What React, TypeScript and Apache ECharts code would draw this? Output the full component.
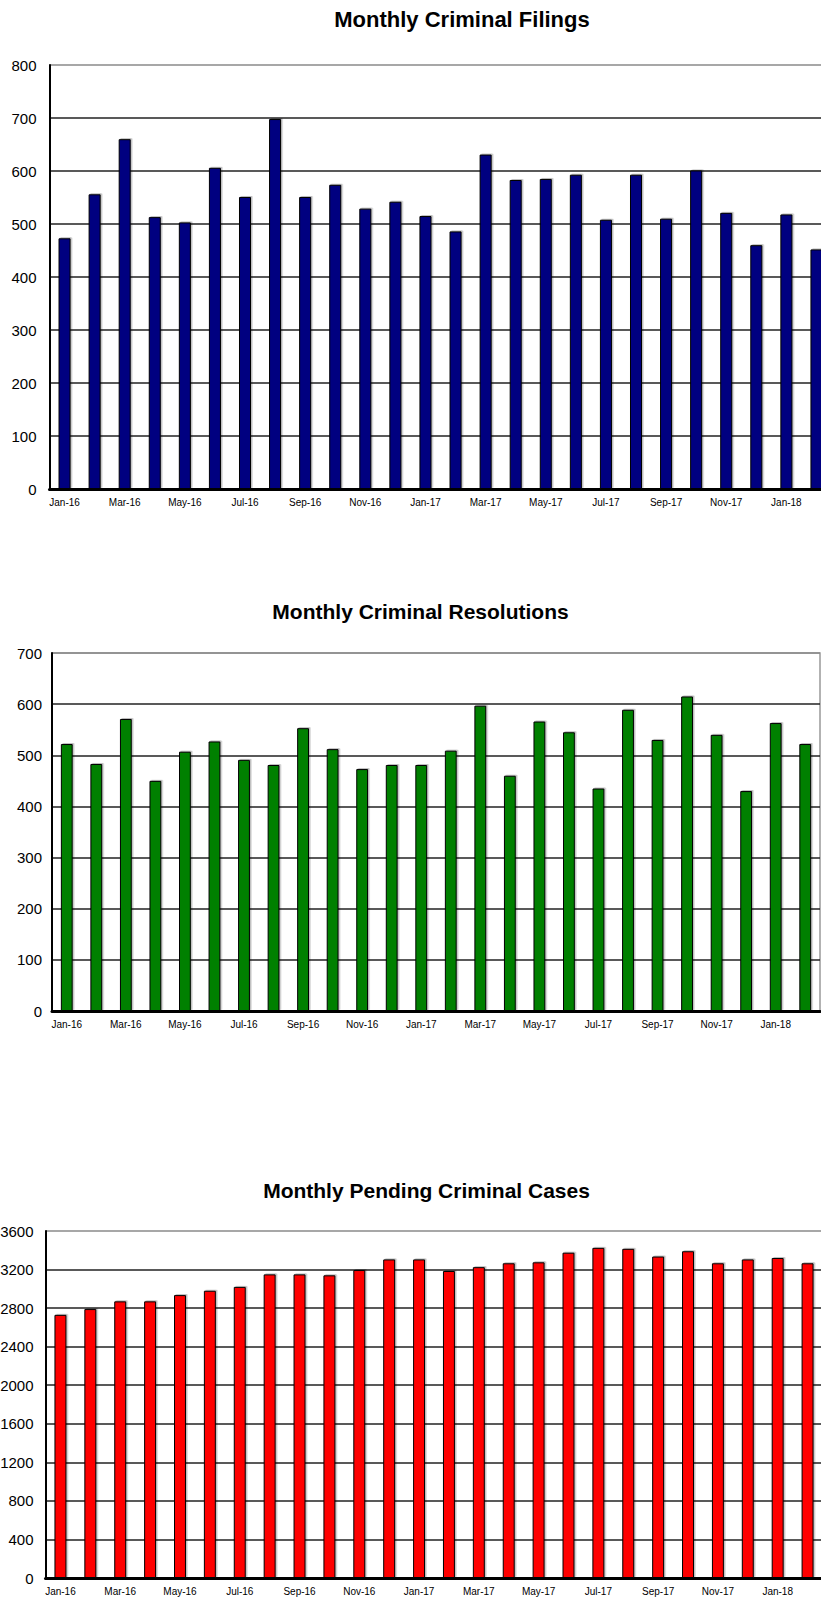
import React, { useEffect, useRef } from "react";
import * as echarts from "echarts";

const months = [
  "Jan-16", "Feb-16", "Mar-16", "Apr-16", "May-16", "Jun-16", "Jul-16", "Aug-16",
  "Sep-16", "Oct-16", "Nov-16", "Dec-16", "Jan-17", "Feb-17", "Mar-17", "Apr-17",
  "May-17", "Jun-17", "Jul-17", "Aug-17", "Sep-17", "Oct-17", "Nov-17", "Dec-17",
  "Jan-18", "Feb-18",
];

const filings = [473, 556, 660, 513, 503, 606, 551, 698, 551, 574, 529, 542, 515, 486, 631, 583, 585, 593, 508, 593, 510, 601, 521, 460, 518, 452];
const resolutions = [522, 483, 571, 450, 507, 527, 491, 481, 553, 512, 473, 481, 481, 509, 597, 460, 566, 545, 435, 589, 530, 615, 540, 430, 563, 522];
const pending = [2730, 2790, 2870, 2870, 2935, 2980, 3020, 3150, 3150, 3140, 3195, 3305, 3305, 3185, 3225, 3265, 3275, 3375, 3425, 3415, 3335, 3390, 3265, 3305, 3320, 3265];

const titles = ["Monthly Criminal Filings", "Monthly Criminal Resolutions", "Monthly Pending Criminal Cases"];

const FONT = '"Liberation Sans", Arial, Helvetica, sans-serif';

function splitColors(n: number) {
  const arr: string[] = [];
  for (let i = 0; i < n; i++) arr.push(i === n - 1 ? "#8a8a8a" : "#222222");
  return arr;
}

export default function App() {
  const ref = useRef<HTMLDivElement>(null);
  useEffect(() => {
    if (!ref.current) return;
    const chart = echarts.init(ref.current, undefined, { renderer: "svg" });

    const grids: any[] = [
      { left: 49.5, top: 65, width: 782, height: 424, outerBoundsMode: "none", containLabel: false },
      { left: 52, top: 653, width: 768, height: 358, show: true, borderColor: "#999999", borderWidth: 1.5, backgroundColor: "transparent", outerBoundsMode: "none", containLabel: false },
      { left: 45.5, top: 1231, width: 777, height: 347, outerBoundsMode: "none", containLabel: false },
    ];
    const yCfg = [
      { max: 800, interval: 100, margin: 13, lines: 9 },
      { max: 700, interval: 100, margin: 10, lines: 8 },
      { max: 3600, interval: 400, margin: 12, lines: 10 },
    ];
    const seriesData = [filings, resolutions, pending];
    const colors = ["#000080", "#008000", "#ff0000"];
    const titleX = [462, 420.5, 426.5];
    const titleY = [19, 611, 1190];
    const titleSize = [22, 21, 21];

    const option: any = {
      animation: false,
      backgroundColor: "#ffffff",
      textStyle: { fontFamily: FONT },
      grid: grids,
      xAxis: grids.map((_, i) => ({
        type: "category",
        gridIndex: i,
        data: months,
        boundaryGap: true,
        axisTick: { show: false },
        axisLine: { show: true, lineStyle: { color: "#000000", width: 3 } },
        axisLabel: { interval: 1, fontSize: 10, color: "#000000", margin: 8, fontFamily: FONT },
        splitLine: { show: false },
      })),
      yAxis: grids.map((_, i) => ({
        type: "value",
        gridIndex: i,
        min: 0,
        max: yCfg[i].max,
        interval: yCfg[i].interval,
        axisLine: { show: true, lineStyle: { color: "#000000", width: 2 } },
        axisTick: { show: false },
        axisLabel: {
          fontSize: 15,
          color: "#000000",
          margin: yCfg[i].margin,
          fontFamily: FONT,
          formatter: (v: number) => String(v),
        },
        splitLine: { show: true, lineStyle: { color: splitColors(yCfg[i].lines), width: 1.5 } },
      })),
      series: seriesData.map((d, i) => ({
        type: "bar",
        xAxisIndex: i,
        yAxisIndex: i,
        data: d,
        barWidth: "40%",
        itemStyle: {
          color: colors[i],
          borderColor: "#000000",
          borderWidth: 1,
          shadowColor: "rgba(0,0,0,0.25)",
          shadowOffsetX: 1.5,
          shadowOffsetY: -1,
          shadowBlur: 0,
        },
      })),
      graphic: titles.map((t, i) => ({
        type: "text",
        x: titleX[i],
        y: titleY[i],
        style: {
          text: t,
          fill: "#000000",
          font: `bold ${titleSize[i]}px ${FONT}`,
          textAlign: "center",
          textVerticalAlign: "middle",
        },
      })),
    };
    chart.setOption(option);
    return () => chart.dispose();
  }, []);

  return (
    <div
      ref={ref}
      style={{ position: "absolute", left: 0, top: 0, width: 821, height: 1598, overflow: "hidden" }}
    />
  );
}
